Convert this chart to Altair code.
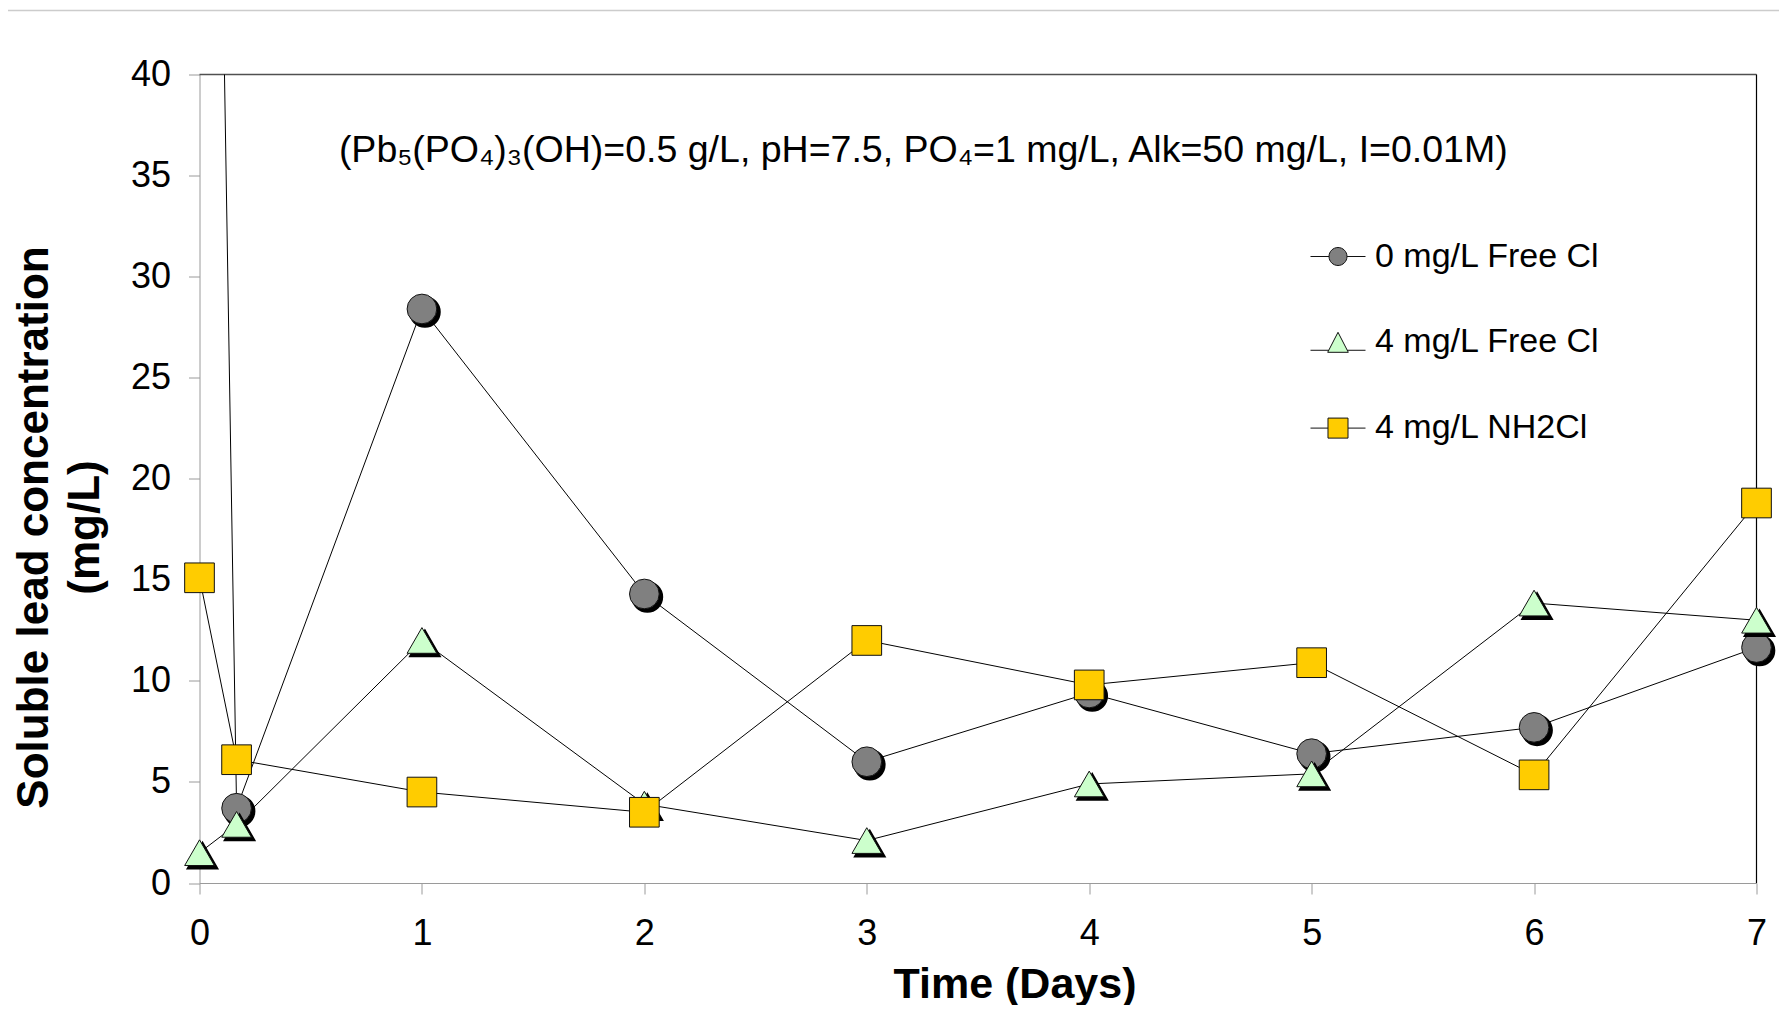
import altair as alt
import pandas as pd

# ---- data ----
days = [0, 0.1667, 1, 2, 3, 4, 5, 6, 7]
series_names = ["0 mg/L Free Cl", "4 mg/L Free Cl", "4 mg/L NH2Cl"]
gray_vals = [115.0, 3.7, 28.4, 14.3, 6.0, 9.4, 6.4, 7.7, 11.65]
green_vals = [1.5, 2.9, 12.0, 3.9, 2.1, 4.9, 5.4, 13.85, 13.0]
yellow_vals = [15.1, 6.1, 4.5, 3.5, 12.0, 9.8, 10.9, 5.35, 18.8]
x_ticks = [0, 1, 2, 3, 4, 5, 6, 7]
y_ticks = [0, 5, 10, 15, 20, 25, 30, 35, 40]
annotation = "(Pb\u2085(PO\u2084)\u2083(OH)=0.5 g/L, pH=7.5, PO\u2084=1 mg/L, Alk=50 mg/L, I=0.01M)"

fills = ["#808080", "#CCFFCC", "#FFCC00"]
shapes = ["circle", "triangle-up", "square"]
legend_paths = [
    "M-1,0H-0.327M0.327,0H1M-0.327,0A0.327,0.327,0,1,1,0.327,0A0.327,0.327,0,1,1,-0.327,0Z",
    "M-1,0.29H-0.337M0.337,0.29H1M0,-0.364L0.375,0.364L-0.375,0.364Z",
    "M-1,0H-0.364M0.364,0H1M-0.364,-0.364H0.364V0.364H-0.364Z",
]

rows = []
for name, vals in zip(series_names, [gray_vals, green_vals, yellow_vals]):
    for d, v in zip(days, vals):
        rows.append({"day": d, "value": v, "series": name})
df = pd.DataFrame(rows)

FONT = "Liberation Sans"

x_enc = alt.X("day:Q",
              scale=alt.Scale(domain=[0, 7], nice=False, zero=False),
              axis=alt.Axis(values=x_ticks, format="d", title="Time (Days)", grid=False,
                            labelFlush=False,
                            domainColor="#9a9a9a", tickColor="#9a9a9a", tickSize=11,
                            labelFontSize=36, labelFont=FONT, labelColor="black",
                            labelBaseline="alphabetic", labelPadding=50,
                            titleFont=FONT, titleFontSize=43, titleFontWeight="bold",
                            titleColor="black", titleX=815, titleY=114,
                            titleAlign="center", titleBaseline="alphabetic",
                            titleAnchor="start"))
y_enc = alt.Y("value:Q",
              scale=alt.Scale(domain=[0, 40], nice=False, zero=False),
              axis=alt.Axis(values=y_ticks, title=["Soluble lead concentration", "(mg/L)"],
                            grid=False, labelFlush=False,
                            domainColor="#9a9a9a", tickColor="#9a9a9a",
                            tickSize=11, labelFontSize=36, labelFont=FONT,
                            labelColor="black", labelPadding=18, labelBaseline="middle",
                            titleFont=FONT, titleFontSize=44, titleFontWeight="bold",
                            titleColor="black", titleAngle=270, titleX=-165, titleY=452.5,
                            titleAlign="center", titleBaseline="middle",
                            titleLineHeight=51, titleAnchor="start"))

base = alt.Chart(df)

lines = base.mark_line(color="black", strokeWidth=1, clip=True).encode(
    x=x_enc, y=y_enc, detail="series:N")

layers = [lines]
for i, name in enumerate(series_names):
    sub = base.transform_filter((alt.datum.series == name) & (alt.datum.value <= 40))
    if i < 2:
        layers.append(sub.mark_point(shape=shapes[i], filled=True, fill="black", stroke="black",
                                     size=880, opacity=1, xOffset=3, yOffset=3)
                      .encode(x="day:Q", y="value:Q"))
    layers.append(sub.mark_point(shape=shapes[i], filled=True, fill=fills[i], stroke="#111111",
                                 strokeWidth=1, size=880, opacity=1)
                  .encode(x="day:Q", y="value:Q"))

legend_props = dict(orient="none", legendX=1110.5, legendY=154, title=None,
                    padding=0, symbolSize=3025, symbolOpacity=1,
                    symbolStrokeWidth=1,
                    labelFont=FONT, labelFontSize=34, labelColor="black",
                    labelOffset=9, rowPadding=40.8, labelLimit=0)

legend_layer = base.mark_point(filled=True, opacity=0, size=10, clip=True, strokeWidth=1).encode(
    x="day:Q", y="value:Q",
    shape=alt.Shape("series:N", scale=alt.Scale(domain=series_names, range=legend_paths),
                    legend=alt.Legend(**legend_props)),
    fill=alt.Fill("series:N", scale=alt.Scale(domain=series_names, range=fills),
                  legend=alt.Legend(**legend_props)),
    stroke=alt.Stroke("series:N", scale=alt.Scale(domain=series_names,
                                                  range=["#111111", "#111111", "#111111"]),
                      legend=alt.Legend(**legend_props)),
)
layers.append(legend_layer)

top_rule = alt.Chart(pd.DataFrame({"v": [40]})).mark_rule(color="#505050", strokeWidth=1.5).encode(
    y=alt.Y("v:Q", scale=alt.Scale(domain=[0, 40])))
right_rule = alt.Chart(pd.DataFrame({"d": [7]})).mark_rule(color="black", strokeWidth=1.2).encode(
    x=alt.X("d:Q", scale=alt.Scale(domain=[0, 7])))
page_rule = alt.Chart(pd.DataFrame({"d": [0]})).mark_rule(color="#cccccc", strokeWidth=1.5, clip=False).encode(
    x=alt.value(-191.5), x2=alt.value(1579.5), y=alt.value(-64))

text = alt.Chart(pd.DataFrame({"t": [annotation], "x": [3.254], "y": [35.69]})).mark_text(
    font=FONT, fontSize=37.5, color="black", align="center", baseline="alphabetic").encode(
    x=alt.X("x:Q", scale=alt.Scale(domain=[0, 7])),
    y=alt.Y("y:Q", scale=alt.Scale(domain=[0, 40])), text="t:N")

chart = alt.layer(page_rule, top_rule, right_rule, *layers, text).properties(
    width=1557, height=808.5,
    padding={"left": 191.5, "top": 66.5, "right": 22, "bottom": 122},
    autosize=alt.AutoSizeParams(type="none"),
).configure_view(stroke=None)

chart.save("out.html", embed_options={"renderer": "svg", "actions": False})
